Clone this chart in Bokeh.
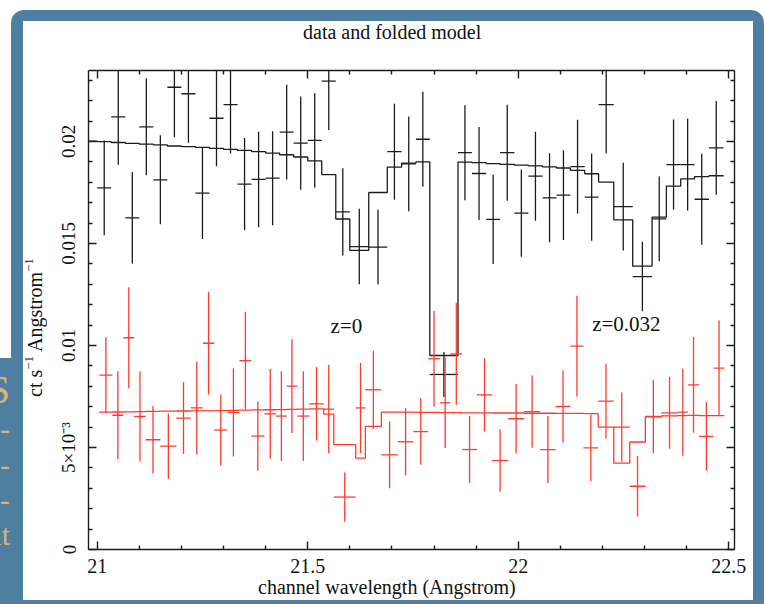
from bokeh.plotting import figure
from bokeh.layouts import column, row
from bokeh.models import (Range1d, FixedTicker, LinearAxis, Label, ColumnDataSource, Div,
                          CustomLabelingPolicy)
from bokeh.embed import file_html
from bokeh.resources import INLINE

# ---------------- data ----------------
# dataset 1 (black): bin edges in Angstrom, count rates and 1-sigma errors
black_edges = [21.0, 21.0333, 21.0667, 21.1, 21.1333, 21.1667, 21.2, 21.2333, 21.2667, 21.3,
               21.3333, 21.3667, 21.4, 21.4333, 21.4667, 21.5, 21.5333, 21.5667, 21.6, 21.645,
               21.689, 21.723, 21.757, 21.790, 21.857, 21.890, 21.924, 21.957, 21.991, 22.024,
               22.058, 22.091, 22.124, 22.158, 22.191, 22.227, 22.272, 22.318, 22.352, 22.386,
               22.419, 22.453, 22.488]
black_rate = [0.01773, 0.02121, 0.01626, 0.02072, 0.01812, 0.02266, 0.02234, 0.01747, 0.02114, 0.02181,
              0.01791, 0.01814, 0.01820, 0.02046, 0.01992, 0.02005, 0.02296, 0.01655, 0.01485, 0.01482,
              0.01950, 0.01890, 0.02011, 0.00858, 0.01945, 0.01843, 0.01618, 0.01945, 0.01649, 0.01830,
              0.01724, 0.01737, 0.01877, 0.01727, 0.02181, 0.01681, 0.01338, 0.01621, 0.01887, 0.01887,
              0.01717, 0.01969]
black_err = [0.00232, 0.00235, 0.00224, 0.00238, 0.00218, 0.00245, 0.00240, 0.00225, 0.00235, 0.00240,
             0.00226, 0.00234, 0.00230, 0.00232, 0.00228, 0.00232, 0.00240, 0.00214, 0.00185, 0.00183,
             0.00235, 0.00232, 0.00233, 0.00110, 0.00233, 0.00228, 0.00219, 0.00235, 0.00214, 0.00218,
             0.00218, 0.00220, 0.00230, 0.00214, 0.00240, 0.00215, 0.00170, 0.00208, 0.00221, 0.00225,
             0.00223, 0.00230]
# folded model for dataset 1 (one extra bin on the left, partly outside the plot)
black_model_edges = [20.967] + black_edges
black_model = [0.02002, 0.01999, 0.01995, 0.01991, 0.01987, 0.01983, 0.01978, 0.01975, 0.01971, 0.01966,
               0.01961, 0.01956, 0.01950, 0.01943, 0.01935, 0.01924, 0.01905, 0.01838, 0.01620, 0.01466,
               0.01750, 0.01874, 0.01894, 0.01900, 0.00951, 0.01899, 0.01896, 0.01892, 0.01888, 0.01884,
               0.01880, 0.01876, 0.01870, 0.01858, 0.01842, 0.01801, 0.01616, 0.01389, 0.01629, 0.01781,
               0.01817, 0.01828, 0.01832]

# dataset 2 (red)
red_edges = [21.005, 21.036, 21.062, 21.088, 21.115, 21.150, 21.188, 21.222, 21.251, 21.278,
             21.309, 21.338, 21.366, 21.397, 21.425, 21.450, 21.475, 21.504, 21.538, 21.562,
             21.614, 21.637, 21.675, 21.714, 21.751, 21.786, 21.814, 21.839, 21.867, 21.902,
             21.938, 21.976, 22.014, 22.052, 22.089, 22.124, 22.155, 22.190, 22.227, 22.265,
             22.302, 22.340, 22.379, 22.403, 22.430, 22.464, 22.490]
red_rate = [0.00855, 0.00658, 0.01038, 0.00652, 0.00538, 0.00507, 0.00644, 0.00694, 0.01011, 0.00585,
            0.00672, 0.00926, 0.00556, 0.00665, 0.00654, 0.00801, 0.00654, 0.00714, 0.00688, 0.00257,
            0.00694, 0.00783, 0.00464, 0.00528, 0.00578, 0.00935, 0.00719, 0.00959, 0.00490, 0.00758,
            0.00436, 0.00641, 0.00676, 0.00490, 0.00701, 0.00997, 0.00498, 0.00727, 0.00600, 0.00310,
            0.00652, 0.00670, 0.00673, 0.00807, 0.00554, 0.00889]
red_err = [0.00186, 0.00216, 0.00247, 0.00220, 0.00165, 0.00160, 0.00176, 0.00228, 0.00253, 0.00175,
           0.00216, 0.00240, 0.00170, 0.00220, 0.00220, 0.00230, 0.00220, 0.00180, 0.00218, 0.00121,
           0.00221, 0.00192, 0.00164, 0.00165, 0.00163, 0.00235, 0.00222, 0.00250, 0.00165, 0.00180,
           0.00153, 0.00170, 0.00177, 0.00165, 0.00177, 0.00247, 0.00163, 0.00184, 0.00170, 0.00148,
           0.00180, 0.00176, 0.00213, 0.00235, 0.00168, 0.00233]
red_model = [0.00673, 0.00674, 0.00675, 0.00676, 0.00677, 0.00678, 0.00679, 0.00680, 0.00680, 0.00681,
             0.00682, 0.00683, 0.00684, 0.00685, 0.00686, 0.00687, 0.00688, 0.00689, 0.00664, 0.00514,
             0.00448, 0.00604, 0.00673, 0.00673, 0.00672, 0.00672, 0.00671, 0.00671, 0.00670, 0.00670,
             0.00669, 0.00669, 0.00668, 0.00668, 0.00667, 0.00667, 0.00666, 0.00600, 0.00423, 0.00527,
             0.00650, 0.00655, 0.00656, 0.00657, 0.00656, 0.00656]

# axes
x_limits = [20.9793, 22.5138]
y_limits = [0.0, 0.02348]
x_major = [21.0, 21.5, 22.0, 22.5]
x_major_labels = ["21", "21.5", "22", "22.5"]
x_minor = [21.1, 21.2, 21.3, 21.4, 21.6, 21.7, 21.8, 21.9, 22.1, 22.2, 22.3, 22.4]
y_major = [0.0, 0.005, 0.01, 0.015, 0.02]
y_major_labels = ["0", "5×10⁻³", "0.01", "0.015", "0.02"]
y_minor = [0.001, 0.002, 0.003, 0.004, 0.006, 0.007, 0.008, 0.009, 0.011, 0.012, 0.013, 0.014,
           0.016, 0.017, 0.018, 0.019, 0.021, 0.022, 0.023]

title_text = "data and folded model"
x_label = "channel wavelength (Angstrom)"
SUP = "<span style='font-size:13px;vertical-align:6px;line-height:0'>−1</span>"
y_label_html = f"ct s{SUP} Angstrom{SUP}"
annotations = [("z=0", 21.592, 0.01098), ("z=0.032", 22.257, 0.01103)]
# fragments of the slide text showing at the far left, behind the panel: (text, size, top)
slide_fragments = [("S", 40, 360), ("-", 30, 404), ("-", 30, 440), ("-", 30, 475), ("at", 30, 510)]

# ---------------- styling ----------------
FONT = "Liberation Serif"
BLUE = "#4e7fa0"
INK = "#1c1c1c"
RED = "#ff3b2f"
ORANGE = "#dcb478"
PLOT_H = 537

p = figure(width=706, height=PLOT_H, output_backend="svg", toolbar_location=None,
           x_range=Range1d(*x_limits), y_range=Range1d(*y_limits),
           min_border_left=41, min_border_right=19, min_border_top=25, min_border_bottom=PLOT_H - 504,
           border_fill_color="white", background_fill_color="white",
           outline_line_color=None, margin=0)
p.grid.visible = False


def style_axis(ax, ticks, minor, show_labels, size="20px"):
    ax.ticker = FixedTicker(ticks=ticks, minor_ticks=minor)
    ax.axis_line_color = INK
    ax.axis_line_width = 1.4
    ax.major_tick_line_color = INK
    ax.major_tick_line_width = 1.4
    ax.minor_tick_line_color = INK
    ax.minor_tick_line_width = 1.4
    ax.major_tick_in = 8
    ax.major_tick_out = 0
    ax.minor_tick_in = 4
    ax.minor_tick_out = 0
    ax.major_label_text_font = FONT
    ax.major_label_text_color = "#111111"
    if show_labels:
        ax.major_label_text_font_size = size
    else:
        ax.major_label_text_font_size = "0px"
        ax.major_label_standoff = 0
        ax.major_label_policy = CustomLabelingPolicy(code="return new Set()")


style_axis(p.xaxis[0], x_major, x_minor, True, "20px")
p.xaxis[0].major_label_standoff = 9
p.xaxis[0].major_label_overrides = {v: s for v, s in zip(x_major, x_major_labels)}

style_axis(p.yaxis[0], y_major, y_minor, True, "19px")
p.yaxis[0].major_label_orientation = "vertical"
p.yaxis[0].major_label_standoff = 9
p.yaxis[0].major_label_overrides = {v: s for v, s in zip(y_major, y_major_labels)}

top_ax = LinearAxis()
style_axis(top_ax, x_major, x_minor, False)
p.add_layout(top_ax, "above")
right_ax = LinearAxis()
style_axis(right_ax, y_major, y_minor, False)
p.add_layout(right_ax, "right")

# ---------------- data glyphs ----------------
def add_dataset(edges, rate, err, model_edges, model, color):
    lo = edges[:-1]
    hi = edges[1:]
    ctr = [(a + b) / 2 for a, b in zip(lo, hi)]
    src = ColumnDataSource(dict(lo=lo, hi=hi, ctr=ctr, y=rate,
                                ylo=[v - e for v, e in zip(rate, err)],
                                yhi=[v + e for v, e in zip(rate, err)]))
    p.segment(x0="lo", x1="hi", y0="y", y1="y", source=src, line_color=color, line_width=1.3)
    p.segment(x0="ctr", x1="ctr", y0="ylo", y1="yhi", source=src, line_color=color, line_width=1.3)
    p.step(x=model_edges, y=model + [model[-1]], mode="after", line_color=color, line_width=1.3)


add_dataset(black_edges, black_rate, black_err, black_model_edges, black_model, INK)
add_dataset(red_edges, red_rate, red_err, red_edges, red_model, RED)

for txt, ax_, ay_ in annotations:
    p.add_layout(Label(x=ax_, y=ay_, text=txt, text_font=FONT, text_font_size="21px",
                       text_color="#111111", text_align="center", text_baseline="middle"))

# ---------------- page texts and frame ----------------
TXT = f"font-family:'{FONT}';font-size:20px;color:#111111;white-space:nowrap;"
WHITE = {"background-color": "white"}

title_div = Div(text=f'<div style="{TXT}padding-left:280px;line-height:22px;">{title_text}</div>',
                width=730, height=24, margin=0, styles=WHITE)

ylab_div = Div(text=(f'<div style="position:relative;width:24px;height:{PLOT_H}px;">'
                     f'<div style="{TXT}position:absolute;left:1px;top:30px;width:22px;height:506px;'
                     f'line-height:22px;writing-mode:vertical-rl;transform:rotate(180deg);'
                     f'text-align:center;">{y_label_html}</div></div>'),
               width=24, height=PLOT_H, margin=0, styles=WHITE)

xlab_div = Div(text=f'<div style="{TXT}padding-left:235px;line-height:10px;">{x_label}</div>',
               width=730, height=579 - 24 - PLOT_H, margin=0, styles=WHITE)

middle = row(ylab_div, p, margin=0, styles=WHITE)

inner = column(title_div, middle, xlab_div, margin=(11, 11, 4, 12), styles=WHITE)

page = column(inner, margin=(10, 0, 0, 0),
              styles={"background-color": BLUE,
                      "border-top-left-radius": "13px",
                      "border-top-right-radius": "13px"})

frag_html = "".join(
    f'<span style="position:absolute;right:1px;top:{top}px;font-size:{size}px;line-height:{size}px;">{t}</span>'
    for t, size, top in slide_fragments)
strip = Div(text=(f'<div style="position:relative;width:11px;height:594px;overflow:hidden;'
                  f'background:linear-gradient(to bottom,#ffffff 0px,#ffffff 348px,{BLUE} 348px);'
                  f'font-family:\'{FONT}\';color:{ORANGE};">{frag_html}</div>'),
            width=11, height=594, margin=(10, 0, 0, 0))

root = row(strip, page, margin=0)

open("out.html", "w").write(file_html(root, INLINE))
